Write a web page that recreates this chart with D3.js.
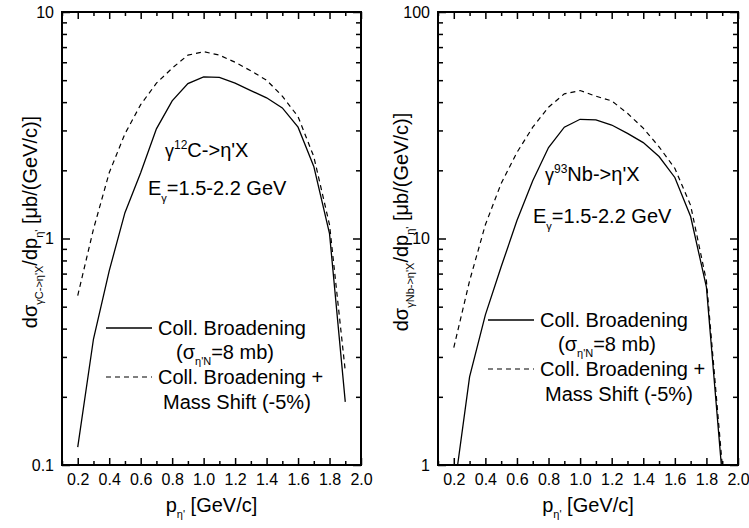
<!DOCTYPE html>
<html>
<head>
<meta charset="utf-8">
<script src="https://cdn.jsdelivr.net/npm/d3@7"></script>
<style>
  body { margin: 0; background: #fff; }
  svg { font-family: "Liberation Sans", Arial, sans-serif; }
</style>
</head>
<body>
<svg id="chart" width="749" height="528"></svg>
<script>
// momentum grid [GeV/c]
const pMomentum = [0.2, 0.3, 0.4, 0.5, 0.6, 0.7, 0.8, 0.9, 1.0, 1.1, 1.2, 1.3, 1.4, 1.5, 1.6, 1.7, 1.8, 1.9];

// gamma 12C -> eta' X
const carbonBroadening = [0.12, 0.36, 0.72, 1.3, 1.95, 3.05, 4.05, 4.83, 5.17, 5.15, 4.85, 4.5, 4.18, 3.77, 3.1, 2.08, 1.05, 0.19];
const carbonMassShift  = [0.56, 1.1, 1.95, 2.9, 3.9, 4.85, 5.65, 6.45, 6.68, 6.45, 6.0, 5.5, 5.0, 4.25, 3.45, 2.3, 1.15, 0.26];

// gamma 93Nb -> eta' X
const niobiumBroadening = [0.75, 2.45, 4.6, 7.5, 12, 18, 25.2, 31, 33.6, 33.4, 31.7, 29.1, 26.5, 23, 18.6, 12.5, 6.1, 0.9];
const niobiumMassShift  = [3.3, 6.5, 11.5, 17.5, 24, 31, 38, 43.5, 45, 42.5, 40.5, 35.7, 30.7, 25.4, 20.4, 14, 6.5, 1.0];

const xMajorTicks = [0.2, 0.4, 0.6, 0.8, 1.0, 1.2, 1.4, 1.6, 1.8, 2.0];
const xMinorTicks = [0.1, 0.3, 0.5, 0.7, 0.9, 1.1, 1.3, 1.5, 1.7, 1.9];
const carbonYTicks = [0.1, 1, 10];
const carbonYLabels = ["0.1", "1", "10"];
const niobiumYTicks = [1, 10, 100];
const niobiumYLabels = ["1", "10", "100"];

const svg = d3.select("#chart");

// text with sub/superscripts; parts: [text, size, dy]
function richText(g, parts, x, y, anchor, rotate) {
  const t = g.append("text")
    .attr("x", x).attr("y", y)
    .attr("text-anchor", anchor || "start")
    .attr("fill", "#000");
  if (rotate) t.attr("transform", `rotate(${rotate},${x},${y})`);
  parts.forEach(p => {
    t.append("tspan").attr("font-size", p[1]).attr("dy", p[2] || 0).text(p[0]);
  });
  return t;
}

function drawPanel(cfg) {
  const g = svg.append("g");
  const x = d3.scaleLinear().domain([0.1, 2.0]).range([cfg.left, cfg.right]);
  const y = d3.scaleLog().domain(cfg.yDomain).range([465, 12]);

  const minorY = [];
  const d0 = Math.log10(cfg.yDomain[0]);
  for (let e = d0; e < d0 + 2; e++)
    for (let k = 2; k <= 9; k++) minorY.push(k * Math.pow(10, e));

  const clipId = "clip" + cfg.id;
  g.append("clipPath").attr("id", clipId).append("rect")
    .attr("x", cfg.left).attr("y", 12)
    .attr("width", cfg.right - cfg.left).attr("height", 465 - 12);

  // axes, ticks pointing inward
  const axes = [
    g.append("g").attr("transform", "translate(0,465)")
      .call(d3.axisBottom(x).tickValues(xMajorTicks).tickSizeInner(-7).tickSizeOuter(0)
        .tickPadding(9).tickFormat(d3.format(".1f"))),
    g.append("g").attr("transform", "translate(0,465)")
      .call(d3.axisBottom(x).tickValues(xMinorTicks).tickSizeInner(-4).tickSizeOuter(0).tickFormat("")),
    g.append("g").attr("transform", "translate(0,12)")
      .call(d3.axisTop(x).tickValues(xMajorTicks).tickSizeInner(-7).tickSizeOuter(0).tickFormat("")),
    g.append("g").attr("transform", "translate(0,12)")
      .call(d3.axisTop(x).tickValues(xMinorTicks).tickSizeInner(-4).tickSizeOuter(0).tickFormat("")),
    g.append("g").attr("transform", `translate(${cfg.left},0)`)
      .call(d3.axisLeft(y).tickValues(cfg.yTicks).tickSizeInner(-8).tickSizeOuter(0)
        .tickPadding(8).tickFormat((d, i) => cfg.yLabels[i])),
    g.append("g").attr("transform", `translate(${cfg.left},0)`)
      .call(d3.axisLeft(y).tickValues(minorY).tickSizeInner(-5).tickSizeOuter(0).tickFormat("")),
    g.append("g").attr("transform", `translate(${cfg.right},0)`)
      .call(d3.axisRight(y).tickValues(cfg.yTicks).tickSizeInner(-8).tickSizeOuter(0).tickFormat("")),
    g.append("g").attr("transform", `translate(${cfg.right},0)`)
      .call(d3.axisRight(y).tickValues(minorY).tickSizeInner(-5).tickSizeOuter(0).tickFormat(""))
  ];
  axes.forEach(a => {
    a.select(".domain").remove();
    a.selectAll("line").attr("stroke", "#000").attr("stroke-width", 1.5);
    a.selectAll("text").attr("font-size", 16).attr("fill", "#000")
      .attr("font-family", "'Liberation Sans', Arial, sans-serif");
  });

  g.append("rect")
    .attr("x", cfg.left).attr("y", 12)
    .attr("width", cfg.right - cfg.left).attr("height", 465 - 12)
    .attr("fill", "none").attr("stroke", "#000").attr("stroke-width", 2);

  const line = d3.line().x((d, i) => x(pMomentum[i])).y(d => y(d));
  const curves = g.append("g").attr("clip-path", `url(#${clipId})`);
  curves.append("path").datum(cfg.massShift).attr("d", line)
    .attr("fill", "none").attr("stroke", "#000").attr("stroke-width", 1.2)
    .attr("stroke-dasharray", "5,4");
  curves.append("path").datum(cfg.broadening).attr("d", line)
    .attr("fill", "none").attr("stroke", "#000").attr("stroke-width", 1.3);

  // reaction label
  richText(g, [["\u03b3", 18, 0], [cfg.nucleus[0], 12, -8], [cfg.nucleus[1] + "->\u03b7'X", 20, 8]],
    cfg.reactX, cfg.reactY, "start");
  richText(g, [["E", 20, 0], ["\u03b3", 11, 7], ["=1.5-2.2 GeV", 20, -7]],
    cfg.energyX, cfg.energyY, "start");

  // legend
  const lg = cfg.legend;
  g.append("line").attr("x1", lg.x).attr("x2", lg.x + 46).attr("y1", lg.y).attr("y2", lg.y)
    .attr("stroke", "#000").attr("stroke-width", 1.3);
  richText(g, [["Coll. Broadening", 20, 0]], lg.x + 52, lg.y + 7, "start");
  richText(g, [["(\u03c3", 20, 0], ["\u03b7'N", 11, 6], ["=8 mb)", 20, -6]], lg.x + 70, lg.y + 31, "start");
  g.append("line").attr("x1", lg.x).attr("x2", lg.x + 46).attr("y1", lg.y + 49).attr("y2", lg.y + 49)
    .attr("stroke", "#000").attr("stroke-width", 1.2).attr("stroke-dasharray", "5,4");
  richText(g, [["Coll. Broadening +", 20, 0]], lg.x + 52, lg.y + 56, "start");
  richText(g, [["Mass Shift (-5%)", 20, 0]], lg.x + 57, lg.y + 81, "start");

  // axis titles
  const cx = (cfg.left + cfg.right) / 2;
  richText(g, [["p", 20, 0], ["\u03b7'", 11, 6], [" [GeV/c]", 20, -6]], cx, 512, "middle");
  richText(g, [["d\u03c3", 20, 0], ["\u03b3" + cfg.nucleus[1] + "->\u03b7'X", 11, 6], ["/dp", 20, -6],
    ["\u03b7'", 11, 6], [" [\u03bcb/(GeV/c)]", 20, -6]], cfg.left - cfg.titleGap, 222, "middle", -90);
}

drawPanel({
  id: "C", left: 62, right: 361, yDomain: [0.1, 10],
  yTicks: carbonYTicks, yLabels: carbonYLabels, titleGap: 25,
  broadening: carbonBroadening, massShift: carbonMassShift,
  nucleus: ["12", "C"], reactX: 165, reactY: 157, energyX: 148, energyY: 195,
  legend: { x: 106, y: 328 }
});

drawPanel({
  id: "Nb", left: 438, right: 738, yDomain: [1, 100],
  yTicks: niobiumYTicks, yLabels: niobiumYLabels, titleGap: 30,
  broadening: niobiumBroadening, massShift: niobiumMassShift,
  nucleus: ["93", "Nb"], reactX: 545, reactY: 181, energyX: 533, energyY: 223,
  legend: { x: 488, y: 320 }
});
</script>
</body>
</html>
